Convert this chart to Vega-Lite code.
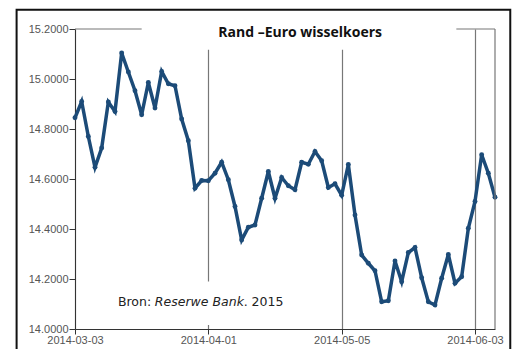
{
  "$schema": "https://vega.github.io/schema/vega-lite/v6.json",
  "width": 420,
  "height": 300,
  "autosize": {"type": "none"},
  "padding": {"left": 75, "top": 29, "right": 24, "bottom": 20},
  "background": "white",
  "config": {"view": {"stroke": null}},
  "data": {"values": [
    {"i": 0, "date": "2014-03-03", "rate": 14.845},
    {"i": 1, "date": "2014-03-04", "rate": 14.910},
    {"i": 2, "date": "2014-03-05", "rate": 14.770},
    {"i": 3, "date": "2014-03-06", "rate": 14.647},
    {"i": 4, "date": "2014-03-07", "rate": 14.724},
    {"i": 5, "date": "2014-03-10", "rate": 14.908},
    {"i": 6, "date": "2014-03-11", "rate": 14.870},
    {"i": 7, "date": "2014-03-12", "rate": 15.104},
    {"i": 8, "date": "2014-03-13", "rate": 15.028},
    {"i": 9, "date": "2014-03-14", "rate": 14.953},
    {"i": 10, "date": "2014-03-17", "rate": 14.857},
    {"i": 11, "date": "2014-03-18", "rate": 14.986},
    {"i": 12, "date": "2014-03-19", "rate": 14.884},
    {"i": 13, "date": "2014-03-20", "rate": 15.030},
    {"i": 14, "date": "2014-03-24", "rate": 14.981},
    {"i": 15, "date": "2014-03-25", "rate": 14.973},
    {"i": 16, "date": "2014-03-26", "rate": 14.840},
    {"i": 17, "date": "2014-03-27", "rate": 14.753},
    {"i": 18, "date": "2014-03-28", "rate": 14.563},
    {"i": 19, "date": "2014-03-31", "rate": 14.594},
    {"i": 20, "date": "2014-04-01", "rate": 14.593},
    {"i": 21, "date": "2014-04-02", "rate": 14.623},
    {"i": 22, "date": "2014-04-03", "rate": 14.667},
    {"i": 23, "date": "2014-04-04", "rate": 14.597},
    {"i": 24, "date": "2014-04-07", "rate": 14.490},
    {"i": 25, "date": "2014-04-08", "rate": 14.356},
    {"i": 26, "date": "2014-04-09", "rate": 14.407},
    {"i": 27, "date": "2014-04-10", "rate": 14.416},
    {"i": 28, "date": "2014-04-11", "rate": 14.523},
    {"i": 29, "date": "2014-04-14", "rate": 14.630},
    {"i": 30, "date": "2014-04-15", "rate": 14.523},
    {"i": 31, "date": "2014-04-16", "rate": 14.606},
    {"i": 32, "date": "2014-04-17", "rate": 14.573},
    {"i": 33, "date": "2014-04-22", "rate": 14.557},
    {"i": 34, "date": "2014-04-23", "rate": 14.667},
    {"i": 35, "date": "2014-04-24", "rate": 14.659},
    {"i": 36, "date": "2014-04-25", "rate": 14.710},
    {"i": 37, "date": "2014-04-29", "rate": 14.673},
    {"i": 38, "date": "2014-04-30", "rate": 14.566},
    {"i": 39, "date": "2014-05-02", "rate": 14.581},
    {"i": 40, "date": "2014-05-05", "rate": 14.535},
    {"i": 41, "date": "2014-05-06", "rate": 14.658},
    {"i": 42, "date": "2014-05-08", "rate": 14.456},
    {"i": 43, "date": "2014-05-09", "rate": 14.296},
    {"i": 44, "date": "2014-05-12", "rate": 14.263},
    {"i": 45, "date": "2014-05-13", "rate": 14.233},
    {"i": 46, "date": "2014-05-14", "rate": 14.109},
    {"i": 47, "date": "2014-05-15", "rate": 14.113},
    {"i": 48, "date": "2014-05-16", "rate": 14.272},
    {"i": 49, "date": "2014-05-19", "rate": 14.189},
    {"i": 50, "date": "2014-05-20", "rate": 14.306},
    {"i": 51, "date": "2014-05-21", "rate": 14.326},
    {"i": 52, "date": "2014-05-22", "rate": 14.205},
    {"i": 53, "date": "2014-05-23", "rate": 14.109},
    {"i": 54, "date": "2014-05-26", "rate": 14.096},
    {"i": 55, "date": "2014-05-27", "rate": 14.203},
    {"i": 56, "date": "2014-05-28", "rate": 14.298},
    {"i": 57, "date": "2014-05-29", "rate": 14.183},
    {"i": 58, "date": "2014-05-30", "rate": 14.209},
    {"i": 59, "date": "2014-06-02", "rate": 14.403},
    {"i": 60, "date": "2014-06-03", "rate": 14.510},
    {"i": 61, "date": "2014-06-04", "rate": 14.697},
    {"i": 62, "date": "2014-06-05", "rate": 14.623},
    {"i": 63, "date": "2014-06-06", "rate": 14.527}
  ]},
  "layer": [
    {
      "mark": {"type": "line", "color": "#1c4b78", "strokeWidth": 3.5, "point": {"filled": true, "size": 24, "color": "#1c4b78"}},
      "encoding": {
        "x": {
          "field": "i", "type": "quantitative",
          "scale": {"domain": [0, 63], "nice": false, "zero": false},
          "axis": {
            "values": [0, 20, 40, 60],
            "labelExpr": "datum.value == 0 ? '2014-03-03' : datum.value == 20 ? '2014-04-01' : datum.value == 40 ? '2014-05-05' : '2014-06-03'",
            "title": null, "grid": true, "gridColor": "#777777", "gridWidth": 1.2,
            "domainColor": "#333333", "tickColor": "#333333", "tickSize": 5,
            "labelFont": "Liberation Sans", "labelFontSize": 11, "labelColor": "#555555",
            "labelPadding": 0, "labelFlush": false, "labelOverlap": false
          }
        },
        "y": {
          "field": "rate", "type": "quantitative",
          "scale": {"domain": [14, 15.2], "nice": false, "zero": false},
          "axis": {
            "values": [14, 14.2, 14.4, 14.6, 14.8, 15, 15.2],
            "format": ".4f", "title": null, "grid": false,
            "domainColor": "#333333", "tickColor": "#333333", "tickSize": 6,
            "labelFont": "Liberation Sans", "labelFontSize": 11, "labelColor": "#555555",
            "labelPadding": 1
          }
        }
      }
    },
    {
      "data": {"values": [{}]},
      "mark": {"type": "rule", "color": "#777777", "strokeWidth": 1.2},
      "encoding": {
        "x": {"datum": 0, "type": "quantitative"},
        "x2": {"datum": 63},
        "y": {"datum": 15.2, "type": "quantitative"}
      }
    },
    {
      "data": {"values": [{}]},
      "mark": {"type": "rule", "color": "#777777", "strokeWidth": 1.2},
      "encoding": {
        "x": {"datum": 63, "type": "quantitative"},
        "y": {"datum": 14.0, "type": "quantitative"},
        "y2": {"datum": 15.2}
      }
    },
    {
      "data": {"values": [{}]},
      "mark": {"type": "rect", "color": "white"},
      "encoding": {
        "x": {"datum": 10, "type": "quantitative"},
        "x2": {"datum": 57.2},
        "y": {"datum": 15.117, "type": "quantitative"},
        "y2": {"datum": 15.21}
      }
    },
    {
      "data": {"values": [{}]},
      "mark": {"type": "rect", "color": "white"},
      "encoding": {
        "x": {"datum": 6, "type": "quantitative"},
        "x2": {"datum": 31},
        "y": {"datum": 14.016, "type": "quantitative"},
        "y2": {"datum": 14.19}
      }
    },
    {
      "data": {"values": [{}]},
      "mark": {"type": "text", "text": "Rand –Euro wisselkoers", "font": "Open Sans", "fontSize": 14, "fontWeight": "bold", "color": "#111111", "align": "center", "baseline": "middle"},
      "encoding": {
        "x": {"datum": 33.77, "type": "quantitative"},
        "y": {"datum": 15.183, "type": "quantitative"}
      }
    },
    {
      "data": {"values": [{}]},
      "mark": {"type": "text", "text": "Bron:", "font": "DejaVu Sans", "fontSize": 12.5, "color": "#222222", "align": "left", "baseline": "middle"},
      "encoding": {
        "x": {"datum": 6.44, "type": "quantitative"},
        "y": {"datum": 14.108, "type": "quantitative"}
      }
    },
    {
      "data": {"values": [{}]},
      "mark": {"type": "text", "text": "Reserwe Bank", "font": "DejaVu Sans", "fontSize": 12.5, "fontStyle": "italic", "color": "#222222", "align": "left", "baseline": "middle"},
      "encoding": {
        "x": {"datum": 11.98, "type": "quantitative"},
        "y": {"datum": 14.108, "type": "quantitative"}
      }
    },
    {
      "data": {"values": [{}]},
      "mark": {"type": "text", "text": ". 2015", "font": "DejaVu Sans", "fontSize": 12.5, "color": "#222222", "align": "left", "baseline": "middle"},
      "encoding": {
        "x": {"datum": 25.3, "type": "quantitative"},
        "y": {"datum": 14.108, "type": "quantitative"}
      }
    },
    {
      "data": {"values": [{}]},
      "mark": {"type": "rect", "fill": null, "filled": false, "stroke": "#111111", "strokeWidth": 2},
      "encoding": {
        "x": {"datum": -8.76, "type": "quantitative"},
        "x2": {"datum": 65.29},
        "y": {"datum": 13.9, "type": "quantitative"},
        "y2": {"datum": 15.277}
      }
    }
  ]
}
